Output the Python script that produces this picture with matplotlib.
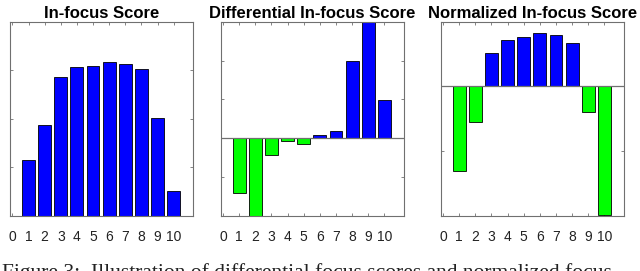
import numpy as np
import matplotlib.pyplot as plt

# data
positions = np.arange(1, 11)
tick_vals = np.arange(0, 11)

infocus = [1.15, 1.88, 2.87, 3.06, 3.09, 3.18, 3.13, 3.02, 2.02, 0.51]
diff_infocus = [-1.41, -2.0, -0.42, -0.07, -0.16, 0.09, 0.19, 1.98, 3.0, 0.98]
norm_infocus = [-1.30, -0.55, 0.52, 0.72, 0.76, 0.83, 0.79, 0.67, -0.40, -1.99]

titles = ["In-focus Score", "Differential In-focus Score", "Normalized In-focus Score"]
series = [infocus, diff_infocus, norm_infocus]
ylims = [(0, 4), (-2, 3), (-2, 1)]
caption = "Figure 3:  Illustration of differential focus scores and normalized focus"

blue = "#0000ff"
green = "#00ff00"
axcol = "#707070"

plt.rcParams['font.family'] = ['Liberation Sans', 'DejaVu Sans']

fig = plt.figure(figsize=(6.4, 2.71), dpi=100)
lefts = [10 / 640, 220.7 / 640, 440.7 / 640]

for left, title, vals, yl in zip(lefts, titles, series, ylims):
    ax = fig.add_axes([left, 55 / 271, 183 / 640, 194.3 / 271])
    vals = np.array(vals)
    cols = [blue if v >= 0 else green for v in vals]
    ax.bar(positions, vals, width=0.8, color=cols, edgecolor="black", linewidth=0.6, zorder=2)
    if yl[0] < 0:
        ax.axhline(0, color=axcol, linewidth=0.9, zorder=3)
    ax.set_xlim(-0.15, 11.2)
    ax.set_ylim(*yl)
    ax.set_xticks(tick_vals)
    ax.set_yticks(np.arange(yl[0], yl[1] + 1, 1))
    ax.set_yticklabels([])
    ax.tick_params(direction="in", top=True, right=True, length=2.5, width=0.6,
                   color=axcol, labelsize=10, pad=10)
    ax.set_xticklabels([str(t) for t in tick_vals])
    for lab in ax.get_xticklabels():
        lab.set_color("#222222")
    for sp in ax.spines.values():
        sp.set_color(axcol)
        sp.set_linewidth(0.8)
    ax.set_title(title, fontsize=12, fontweight="bold", pad=3)

# caption of the source figure, cut at the lower edge as in the reference
fig.text(0.003, 8 / 271, caption, fontsize=15.5, va="top", ha="left",
         family=["Liberation Serif", "DejaVu Serif"], color="#222222")

fig.savefig("out.png", dpi=100)
